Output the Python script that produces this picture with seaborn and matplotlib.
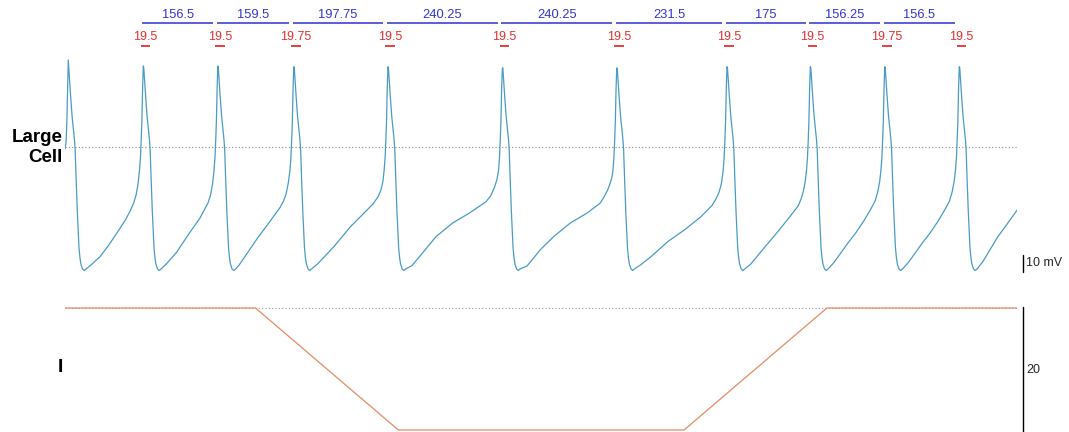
import numpy as np
import pandas as pd
import matplotlib
matplotlib.use("Agg")
import matplotlib.pyplot as plt
import matplotlib.transforms as mtransforms
import seaborn as sns

# ---- data -------------------------------------------------------------
# spike timing (ms)
first_peak_time = 6.9
lead_interval = 157.5
intervals = [156.5, 159.5, 197.75, 240.25, 240.25, 231.5, 175, 156.25, 156.5]
interval_labels = ["156.5", "159.5", "197.75", "240.25", "240.25",
                   "231.5", "175", "156.25", "156.5"]
# spike widths above 0 mV (ms), spikes 2..11
widths = [19.5, 19.5, 19.75, 19.5, 19.5, 19.5, 19.5, 19.5, 19.75, 19.5]
width_labels = ["19.5", "19.5", "19.75", "19.5", "19.5", "19.5",
                "19.5", "19.5", "19.75", "19.5"]
# peak membrane potential of each spike (mV)
peak_mv = [48.3, 45.0, 45.0, 44.6, 44.6, 43.7, 43.7, 44.6, 44.6, 44.6, 44.6]

# fast upstroke before each peak (ms relative to peak, mV)
rise_ms = [-8, -6, -4.5, -3, -1.5]
rise_mv = [-13, -6, 3, 14, 32]
# downstroke and trough after each peak (ms relative to peak, mV)
fall_ms = [1, 2.5, 5, 8, 11, 13, 14.5, 16.5, 19, 21, 22.5, 24.5, 26.5, 30, 33.5, 38]
fall_mv = [44, 38, 28, 17, 9, 4, -2, -18, -36, -48, -56, -61.5, -65, -67.8, -68.6, -67.6]

# slow depolarisation between spikes (ms after preceding peak, mV)
recovery_ms = [
    [50, 66.5, 85, 101.6, 120, 130, 137.5, 142.5, 146.5],
    [50, 70, 95, 119, 129, 136, 141, 145.5],
    [45, 67.8, 85, 103, 120, 131, 138, 143.5, 148],
    [50, 84, 119, 154, 167, 177, 183, 187],
    [50, 66, 101, 136, 171, 206, 216, 223.6, 229],
    [51.9, 80, 107.7, 142.8, 177.9, 205.8, 214, 221, 226, 230],
    [50, 72, 107, 142, 177, 200, 209, 215, 220],
    [50, 75, 110, 140, 150, 156, 160, 164],
    [50, 78.5, 96, 113.4, 128, 136, 141.5, 145.5],
    [50, 78.5, 96, 113.4, 128, 136, 141.5, 145.5],
    [50, 80.6, 100, 122.1],
]
recovery_mv = [
    [-65, -61, -54.5, -48, -40.5, -35.5, -31, -26.5, -20.5],
    [-64.5, -58.5, -48.5, -39.5, -34.5, -31, -27, -20.5],
    [-65.5, -56.7, -50, -43.7, -37.5, -33.5, -30, -26, -20],
    [-65, -55.4, -44.3, -35, -31.5, -27.6, -24, -19.5],
    [-66, -61, -49.8, -42.2, -36.7, -30.4, -27, -22.5, -18],
    [-66.1, -57, -49.8, -42.2, -36.7, -31.1, -27.5, -24, -20.5, -17],
    [-65.5, -60.9, -52.6, -46.1, -38.7, -32.5, -28.5, -25, -20],
    [-65, -57, -46, -36, -32.5, -28.5, -25, -19.5],
    [-64, -53.5, -47.5, -40.6, -34, -30, -25, -19.5],
    [-64, -53.5, -47.5, -40.6, -34, -30, -25, -19.5],
    [-63.5, -50, -43, -34.8],
]
trace_start_mv = -1

# injected current ramp
ramp_t = [0, 400, 700, 1300, 1600, 2000]
ramp_i = [0, 0, -20, -20, 0, 0]

# ---- build the voltage trace -----------------------------------------
peaks = np.concatenate([[first_peak_time, first_peak_time + lead_interval],
                        first_peak_time + lead_interval + np.cumsum(intervals)])

t_pts, v_pts = [0.0], [trace_start_mv]
for k, tp in enumerate(peaks):
    for dt, v in zip(rise_ms, rise_mv):
        if tp + dt > 0 and v > v_pts[-1]:
            t_pts.append(tp + dt)
            v_pts.append(v)
    t_pts.append(tp)
    v_pts.append(peak_mv[k])
    for dt, v in zip(fall_ms, fall_mv):
        t_pts.append(tp + dt)
        v_pts.append(v)
    for dt, v in zip(recovery_ms[k], recovery_mv[k]):
        t_pts.append(tp + dt)
        v_pts.append(v)

volt = pd.DataFrame({"t": t_pts, "v": v_pts})
curr = pd.DataFrame({"t": ramp_t, "i": ramp_i})

# ---- figure -----------------------------------------------------------
sns.set_theme(style="white")
plt.rcParams["font.family"] = ["Liberation Sans", "DejaVu Sans"]

W, H = 1069, 432
fig = plt.figure(figsize=(W / 100, H / 100), dpi=100)

x0_px, px_per_ms = 65.0, 0.4762
t_end = 2000
ax_w = t_end * px_per_ms / W

def fy(ypx):
    return 1 - ypx / H

# voltage panel: 0 mV at 147 px, 1.8 px per mV
ax_v = fig.add_axes([x0_px / W, fy(290), ax_w, 240 / H])
ax_v.set_xlim(0, t_end)
ax_v.set_ylim((147 - 290) / 1.8, (147 - 50) / 1.8)
ax_v.axis("off")

# current panel: 0 at 308 px, 6.1 px per unit
ax_i = fig.add_axes([x0_px / W, 0, ax_w, 132 / H])
ax_i.set_xlim(0, t_end)
ax_i.set_ylim(-(432 - 308) / 6.1, (308 - 300) / 6.1)
ax_i.axis("off")

volt_color = "#4a9bc5"
curr_color = "#e48a66"

ax_v.plot([0, t_end], [0, 0], color="#8a8a8a", lw=0.8, ls=(0, (1, 2)))
sns.lineplot(data=volt, x="t", y="v", ax=ax_v, color=volt_color, lw=0.9,
             sort=False, estimator=None)

ax_i.plot([0, t_end], [0, 0], color="#9a9a9a", lw=0.8, ls=(0, (1, 2)))
sns.lineplot(data=curr, x="t", y="i", ax=ax_i, color=curr_color, lw=0.9,
             sort=False, estimator=None)

# interval bars and labels above the trace
tr = mtransforms.blended_transform_factory(ax_v.transData, fig.transFigure)
blue_txt, blue_line = "#3434d2", "#5c5cd8"
red = "#e5302f"
for k, (iv, lab) in enumerate(zip(intervals, interval_labels)):
    a = peaks[k + 1] - 2.0
    b = peaks[k + 2] - 9.5
    ax_v.plot([a, b], [fy(23), fy(23)], transform=tr, color=blue_line,
              lw=1.4, clip_on=False, solid_capstyle="butt")
    ax_v.text((a + b) / 2, fy(15.5), lab, transform=tr, ha="center",
              va="center", fontsize=9.3, color=blue_txt)

# spike widths measured at 0 mV
for k, (w, lab) in enumerate(zip(widths, width_labels)):
    onset = peaks[k + 1] - 5.3
    ax_v.plot([onset, onset + w], [fy(46), fy(46)], transform=tr, color=red,
              lw=1.3, clip_on=False, solid_capstyle="butt")
    ax_v.text(onset + w / 2, fy(37.5), lab, transform=tr, ha="center",
              va="center", fontsize=9, color=red)

# trace labels
fig.text(63 / W, fy(147.5), "Large\nCell", ha="right", va="center",
         fontsize=13.5, fontweight="bold", linespacing=1.2,
         multialignment="right", color="black")
fig.text(63 / W, fy(368), "I", ha="right", va="center", fontsize=14,
         fontweight="bold", color="black")

# scale bars
sb_x = 1023 / W
fig.add_artist(plt.Line2D([sb_x, sb_x], [fy(255), fy(272)], color="black", lw=1))
fig.text(1026 / W, fy(263.5), "10 mV", ha="left", va="center", fontsize=9)
fig.add_artist(plt.Line2D([sb_x, sb_x], [fy(307), fy(432)], color="black", lw=1))
fig.text(1026 / W, fy(370), "20", ha="left", va="center", fontsize=9)

fig.savefig("out.png", dpi=100)
